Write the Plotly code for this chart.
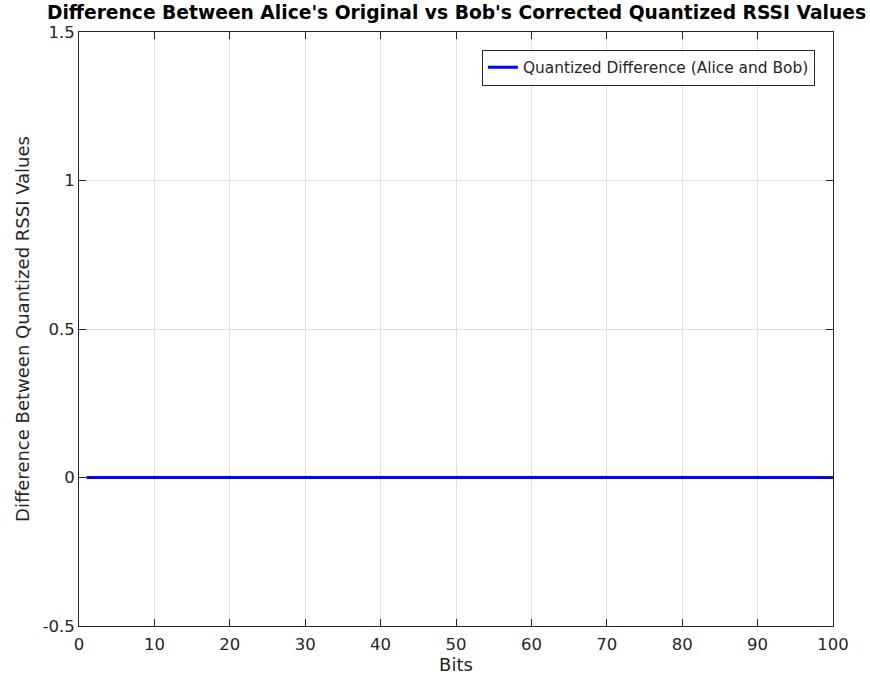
import plotly.graph_objects as go

# Bit positions and the per-bit difference between the two quantized sequences
bits = list(range(1, 101))
quantized_diff = [
    0, 0, 0, 0, 0, 0, 0, 0, 0, 0,
    0, 0, 0, 0, 0, 0, 0, 0, 0, 0,
    0, 0, 0, 0, 0, 0, 0, 0, 0, 0,
    0, 0, 0, 0, 0, 0, 0, 0, 0, 0,
    0, 0, 0, 0, 0, 0, 0, 0, 0, 0,
    0, 0, 0, 0, 0, 0, 0, 0, 0, 0,
    0, 0, 0, 0, 0, 0, 0, 0, 0, 0,
    0, 0, 0, 0, 0, 0, 0, 0, 0, 0,
    0, 0, 0, 0, 0, 0, 0, 0, 0, 0,
    0, 0, 0, 0, 0, 0, 0, 0, 0, 0,
]

x_ticks = [0, 10, 20, 30, 40, 50, 60, 70, 80, 90, 100]
y_ticks = [-0.5, 0, 0.5, 1, 1.5]
y_tick_labels = ["-0.5", "0", "0.5", "1", "1.5"]

FONT = "DejaVu Sans"
AXIS_COLOR = "#262626"
GRID_COLOR = "#dfdfdf"

fig = go.Figure()
fig.add_trace(go.Scatter(
    x=bits,
    y=quantized_diff,
    mode="lines",
    line=dict(color="#0000ff", width=3),
    name="Quantized Difference (Alice and Bob)",
))

axis_common = dict(
    showline=True,
    linecolor=AXIS_COLOR,
    linewidth=1,
    mirror="ticks",
    ticks="inside",
    ticklen=7,
    tickwidth=1,
    tickcolor=AXIS_COLOR,
    showgrid=True,
    gridcolor=GRID_COLOR,
    gridwidth=1,
    zeroline=False,
    automargin=False,
    tickfont=dict(family=FONT, size=16.5, color=AXIS_COLOR),
)

fig.update_xaxes(
    range=[0, 100],
    tickvals=x_ticks,
    ticklabelstandoff=3,
    title=dict(text="Bits", font=dict(family=FONT, size=18, color=AXIS_COLOR), standoff=4),
    **axis_common,
)
fig.update_yaxes(
    range=[-0.5, 1.5],
    tickvals=y_ticks,
    ticktext=y_tick_labels,
    title=dict(text="Difference Between Quantized RSSI Values",
               font=dict(family=FONT, size=18, color=AXIS_COLOR), standoff=8),
    **axis_common,
)

fig.update_layout(
    width=870,
    height=675,
    margin=dict(l=79, r=37, t=32, b=49, autoexpand=False),
    paper_bgcolor="white",
    plot_bgcolor="white",
    font=dict(family=FONT, color=AXIS_COLOR),
    title=dict(
        text="<b>Difference Between Alice's Original vs Bob's Corrected Quantized RSSI Values</b>",
        font=dict(family=FONT, size=18.7, color="black"),
        x=0.5247,
        xanchor="center",
        y=0.982,
        yanchor="middle",
    ),
    showlegend=True,
    legend=dict(
        x=0.976,
        y=0.970,
        xanchor="right",
        yanchor="top",
        bgcolor="white",
        bordercolor=AXIS_COLOR,
        borderwidth=1,
        font=dict(family=FONT, size=15.4, color=AXIS_COLOR),
        tracegroupgap=0,
    ),
)

fig.write_html("out.html")
